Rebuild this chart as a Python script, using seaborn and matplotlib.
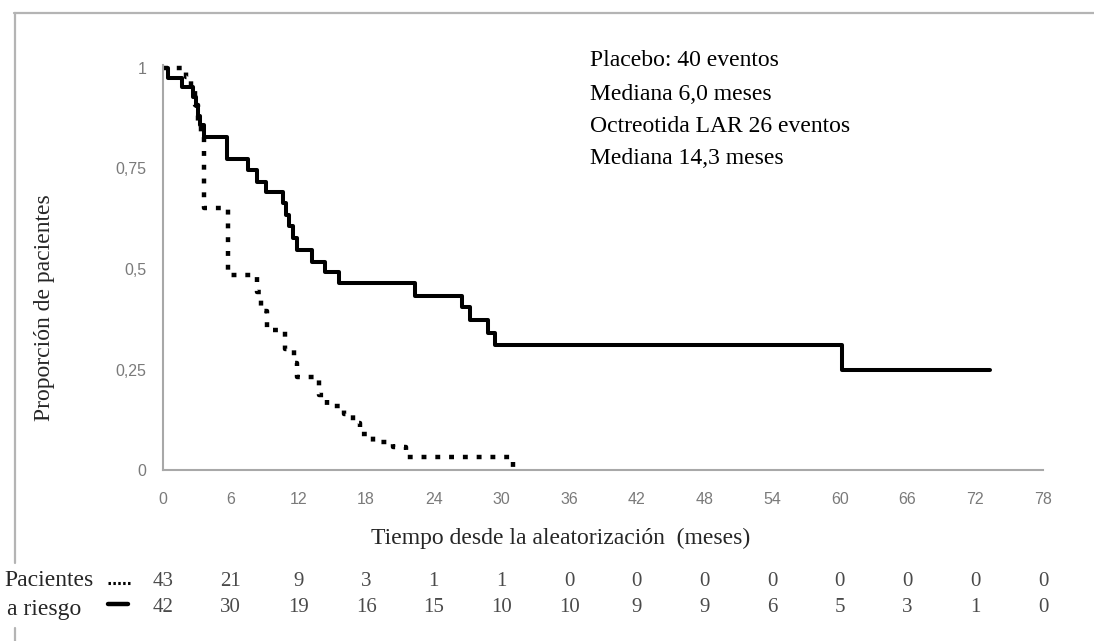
import matplotlib
matplotlib.use("Agg")
import matplotlib.pyplot as plt
import matplotlib.lines as mlines
import seaborn as sns
import pandas as pd

# ---------------- data ----------------
placebo_t = [0, 2.0, 2.5, 2.8, 3.1, 3.4, 3.6, 5.8, 8.3, 8.7, 9.2, 10.8, 11.6, 11.9,
             13.8, 14.5, 16.0, 16.8, 17.5, 18.6, 20.4, 21.5, 31.0]
placebo_s = [1.0, 0.977, 0.953, 0.907, 0.86, 0.837, 0.651, 0.485, 0.442, 0.395, 0.349,
             0.302, 0.267, 0.232, 0.186, 0.158, 0.14, 0.116, 0.09, 0.07, 0.057, 0.033, 0.0]

octreo_t = [0, 0.4, 1.7, 2.7, 2.9, 3.1, 3.3, 3.6, 5.7, 7.5, 8.3, 9.1, 10.6, 10.9, 11.2,
            11.5, 11.9, 13.2, 14.4, 15.6, 22.3, 26.5, 27.2, 28.8, 29.4, 60.2, 73.3]
octreo_s = [1.0, 0.976, 0.952, 0.929, 0.905, 0.881, 0.857, 0.828, 0.774, 0.746, 0.716,
            0.692, 0.664, 0.635, 0.606, 0.577, 0.547, 0.517, 0.492, 0.465, 0.433, 0.405,
            0.373, 0.342, 0.311, 0.249, 0.249]

x_ticks = list(range(0, 79, 6))
y_ticks = [0, 0.25, 0.5, 0.75, 1]
y_tick_labels = ["0", "0,25", "0,5", "0,75", "1"]

risk_placebo = [43, 21, 9, 3, 1, 1, 0, 0, 0, 0, 0, 0, 0, 0]
risk_octreo = [42, 30, 19, 16, 15, 10, 10, 9, 9, 6, 5, 3, 1, 0]

annot_lines = ["Placebo: 40 eventos", "Mediana 6,0 meses",
               "Octreotida LAR 26 eventos", "Mediana 14,3 meses"]
x_label = "Tiempo desde la aleatorización  (meses)"
y_label = "Proporción de pacientes"
risk_labels = ["Pacientes", "a riesgo"]

# ---------------- style ----------------
sns.set_theme(style="white")
plt.rcParams["font.family"] = ["Liberation Serif", "DejaVu Serif"]

W, H = 1094, 641
fig = plt.figure(figsize=(W / 100, H / 100), dpi=100)
fig.patch.set_facecolor("white")
ax = fig.add_axes([163 / W, 1 - 470 / H, 880 / W, 405 / H])

df_p = pd.DataFrame({"t": placebo_t, "s": placebo_s})
df_o = pd.DataFrame({"t": octreo_t, "s": octreo_s})

sns.lineplot(data=df_o, x="t", y="s", ax=ax, drawstyle="steps-post", color="black",
             linewidth=2.9, estimator=None, sort=False)
sns.lineplot(data=df_p, x="t", y="s", ax=ax, drawstyle="steps-post", color="black",
             linewidth=3.2, linestyle=(0, (1.1, 2.0)), estimator=None, sort=False)

ax.set_xlim(0, 78)
ax.set_ylim(0, 405 / 402)
ax.set_xlabel("")
ax.set_ylabel("")
ax.set_xticks(x_ticks)
ax.set_xticklabels([str(v) for v in x_ticks])
ax.set_yticks(y_ticks)
ax.set_yticklabels(y_tick_labels)

grey = "#a8a8a8"
for side in ["top", "right"]:
    ax.spines[side].set_visible(False)
for side in ["left", "bottom"]:
    ax.spines[side].set_color(grey)
    ax.spines[side].set_linewidth(1.5)
ax.tick_params(axis="both", which="both", direction="out", length=4, width=1.2,
               color=grey, labelcolor="#7a7a7a", labelsize=11.5)
ax.tick_params(axis="x", pad=12)
ax.tick_params(axis="y", pad=8)
for lab in ax.get_xticklabels() + ax.get_yticklabels():
    lab.set_fontfamily(["Liberation Sans", "DejaVu Sans"])

# annotation text
ann_y = [61, 94, 127, 159]
for txt, py in zip(annot_lines, ann_y):
    fig.text(590 / W, 1 - py / H, txt, ha="left", va="center", fontsize=17, color="black")

# axis labels
fig.text(561 / W, 1 - 538 / H, x_label, ha="center", va="center", fontsize=17)
fig.text(45 / W, 1 - 308 / H, y_label, ha="center", va="center", fontsize=17, rotation=90)

# at-risk table
fig.text(4 / W, 1 - 581 / H, risk_labels[0], ha="left", va="center", fontsize=17)
fig.text(7 / W, 1 - 609 / H, risk_labels[1], ha="left", va="center", fontsize=17)
fig.add_artist(mlines.Line2D([108 / W, 131 / W], [1 - 583 / H, 1 - 583 / H], color="black",
                             linewidth=2.2, linestyle=(0, (0.8, 0.8))))
fig.add_artist(mlines.Line2D([108 / W, 128 / W], [1 - 604 / H, 1 - 604 / H], color="black",
                             linewidth=3.2))
trans = matplotlib.transforms.blended_transform_factory(ax.transData, fig.transFigure)
for xv, rp, ro in zip(x_ticks, risk_placebo, risk_octreo):
    ax.text(xv, 1 - 581 / H, str(rp), transform=trans, ha="center", va="center",
            fontsize=15, color="#4a4a4a", clip_on=False)
    ax.text(xv, 1 - 607 / H, str(ro), transform=trans, ha="center", va="center",
            fontsize=15, color="#4a4a4a", clip_on=False)

# outer frame
fc = "#b4b4b4"
fig.add_artist(mlines.Line2D([14 / W, 1.0], [1 - 13 / H, 1 - 13 / H], color=fc, linewidth=1.6))
fig.add_artist(mlines.Line2D([15 / W, 15 / W], [1 - 13 / H, 1 - 563 / H], color=fc, linewidth=1.6))
fig.add_artist(mlines.Line2D([15 / W, 15 / W], [1 - 628 / H, 0.0], color=fc, linewidth=1.6))

fig.savefig("out.png", dpi=100, facecolor="white")
